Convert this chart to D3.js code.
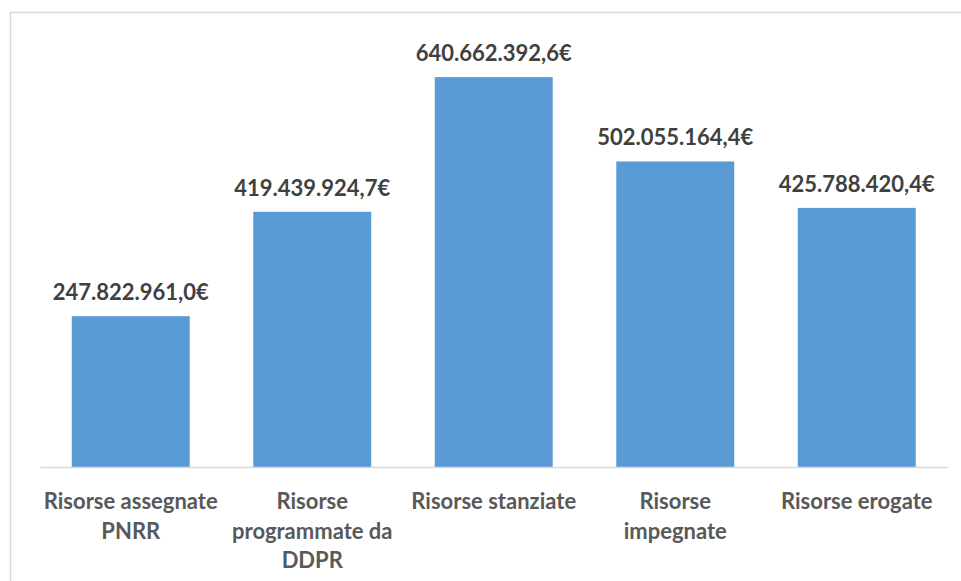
<!DOCTYPE html>
<html><head><meta charset="utf-8">
<script src="https://cdn.jsdelivr.net/npm/d3@7"></script>
<style>html,body{margin:0;padding:0;background:#fff;}</style>
</head><body>
<svg id="chart" width="961" height="581"></svg>
<script>
const categories = ["Risorse assegnate\nPNRR", "Risorse\nprogrammate da\nDDPR", "Risorse stanziate", "Risorse\nimpegnate", "Risorse erogate"];
const values = [247822961.0, 419439924.7, 640662392.6, 502055164.4, 425788420.4];
const valueLabels = ["247.822.961,0€", "419.439.924,7€", "640.662.392,6€", "502.055.164,4€", "425.788.420,4€"];

const svg = d3.select("#chart");
const font = "Lato, 'Open Sans', sans-serif";

// chart border (cropped at right/bottom)
svg.append("rect").attr("x", 10.5).attr("y", 12.5).attr("width", 980).attr("height", 600)
  .attr("fill", "#fff").attr("stroke", "#d9d9d9").attr("stroke-width", 1.5);

const x = d3.scaleBand().domain(d3.range(categories.length)).range([40, 947.5])
  .paddingInner(0.35).paddingOuter(0.175);
const y = d3.scaleLinear().domain([0, 700000000]).range([467, 41]);

svg.selectAll("rect.bar").data(values).join("rect").attr("class", "bar")
  .attr("x", (d, i) => x(i)).attr("width", x.bandwidth())
  .attr("y", d => y(d)).attr("height", d => y(0) - y(d))
  .attr("fill", "#5B9BD5");

// axis
const axis = svg.append("g").attr("transform", `translate(0,${y(0)})`)
  .call(d3.axisBottom(x).tickSize(0).tickFormat(""));
axis.select(".domain").attr("stroke", "#d9d9d9").attr("stroke-width", 1.5);

// value labels
svg.selectAll("text.val").data(values).join("text").attr("class", "val")
  .attr("x", (d, i) => x(i) + x.bandwidth() / 2).attr("y", d => y(d) - 16)
  .attr("text-anchor", "middle").attr("font-family", font).attr("font-weight", "bold")
  .attr("font-size", 22).attr("fill", "#404040")
  .text((d, i) => valueLabels[i]);

// category labels
const cat = svg.selectAll("text.cat").data(categories).join("text").attr("class", "cat")
  .attr("text-anchor", "middle").attr("font-family", font).attr("font-weight", "bold")
  .attr("font-size", 22).attr("fill", "#595959");
cat.each(function(d, i) {
  const t = d3.select(this);
  d.split("\n").forEach((line, j) => {
    t.append("tspan").attr("x", x(i) + x.bandwidth() / 2).attr("y", 509 + j * 29.5).text(line);
  });
});
</script>
</body></html>
